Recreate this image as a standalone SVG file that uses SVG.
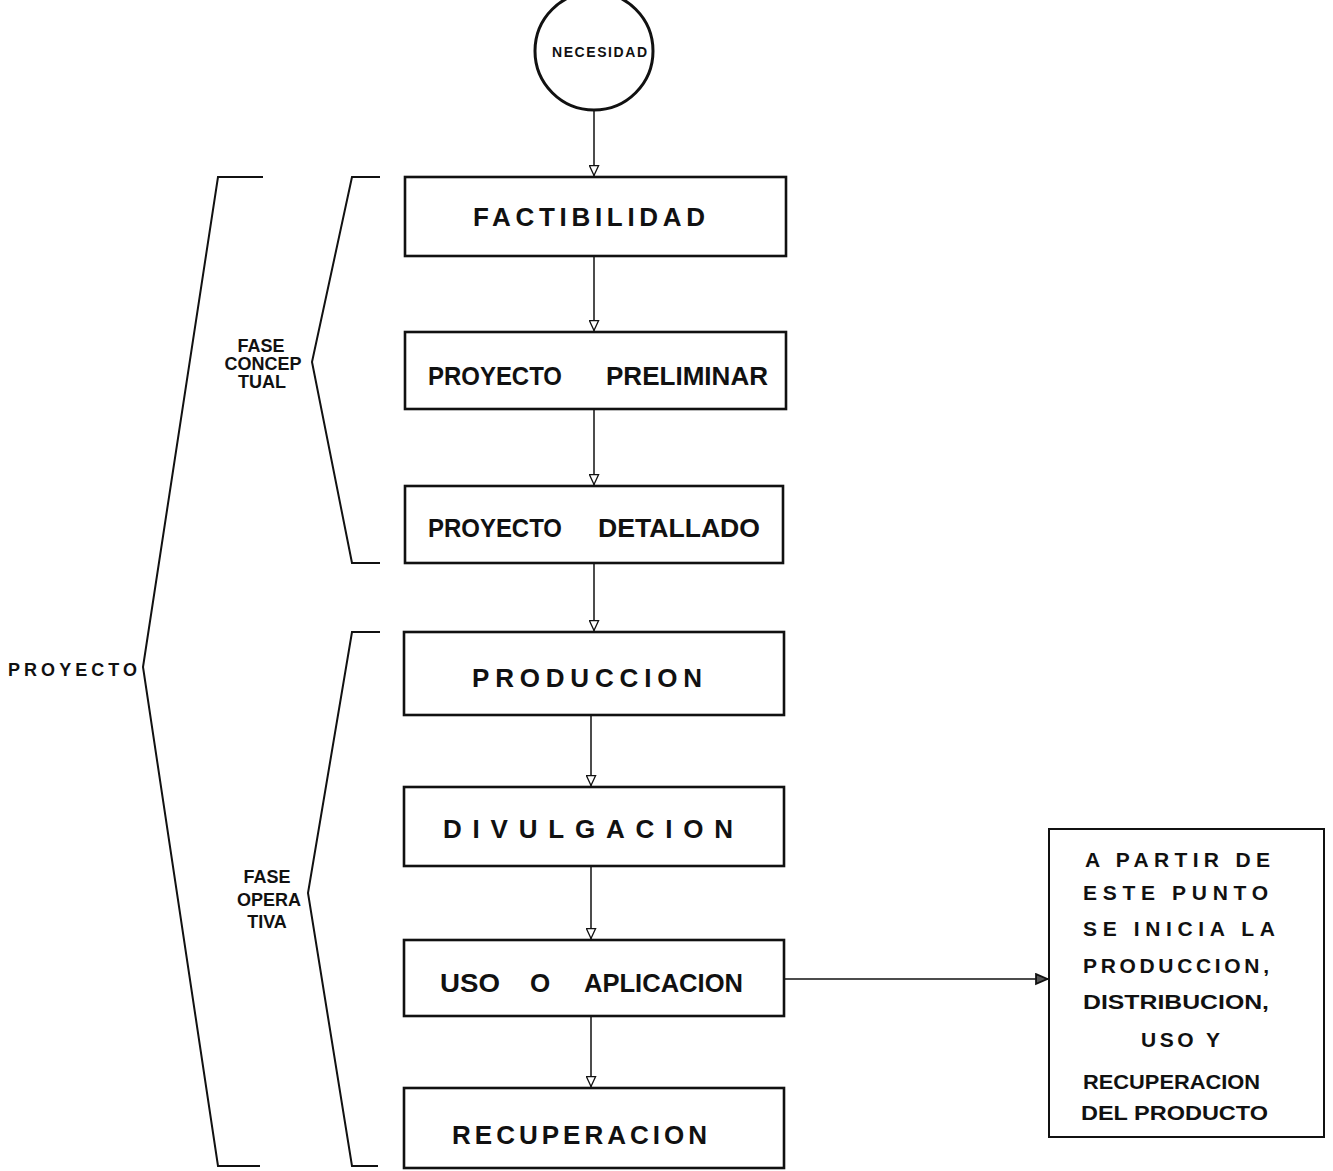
<svg xmlns="http://www.w3.org/2000/svg" width="1333" height="1171" viewBox="0 0 1333 1171">
<style>
  .box{fill:#fff;stroke:#111;stroke-width:2.6}
  .lbl{font-family:"Liberation Sans",Arial,sans-serif;font-weight:bold;font-size:26px;fill:#111}
  .side{font-family:"Liberation Sans",Arial,sans-serif;font-weight:bold;font-size:18px;fill:#111}
  .note{font-family:"Liberation Sans",Arial,sans-serif;font-weight:bold;font-size:21px;fill:#111}
  .con{fill:none;stroke:#111;stroke-width:1.5}
  .brk{fill:none;stroke:#111;stroke-width:2}
</style>
<defs>
  <marker id="open" viewBox="0 0 10 10" refX="10" refY="5" markerWidth="13" markerHeight="11" markerUnits="userSpaceOnUse" orient="auto">
    <path d="M0.5,0.8 L9.5,5 L0.5,9.2 z" fill="#fff" stroke="#111" stroke-width="1.2"/>
  </marker>
  <marker id="solid" viewBox="0 0 10 10" refX="10" refY="5" markerWidth="16" markerHeight="13" markerUnits="userSpaceOnUse" orient="auto">
    <path d="M0.8,1.2 L9.5,5 L0.8,8.8 z" fill="#555" stroke="#111" stroke-width="1.4"/>
  </marker>
</defs>
<rect width="1333" height="1171" fill="#fff"/>

<g id="brackets">
  <path class="brk" d="M263,177 L218,177 L143,667 L218,1166 L260,1166"/>
  <path class="brk" d="M380,177 L352,177 L312,362 L352,563 L380,563"/>
  <path class="brk" d="M380,632 L352,632 L308,893 L352,1166 L378,1166"/>
</g>

<g id="label-proyecto">
  <text class="side" x="8" y="676" font-size="20" textLength="129" lengthAdjust="spacing">PROYECTO</text>
</g>
<g id="label-conceptual" text-anchor="middle">
  <text class="side" x="261" y="352">FASE</text>
  <text class="side" x="263" y="370">CONCEP</text>
  <text class="side" x="262" y="388">TUAL</text>
</g>
<g id="label-operativa" text-anchor="middle">
  <text class="side" x="267" y="883">FASE</text>
  <text class="side" x="269" y="906">OPERA</text>
  <text class="side" x="267" y="928">TIVA</text>
</g>

<g id="connectors">
  <path class="con" d="M594,110 L594,176" marker-end="url(#open)"/>
  <path class="con" d="M594,256 L594,331" marker-end="url(#open)"/>
  <path class="con" d="M594,409 L594,485" marker-end="url(#open)"/>
  <path class="con" d="M594,563 L594,631" marker-end="url(#open)"/>
  <path class="con" d="M591,716 L591,786" marker-end="url(#open)"/>
  <path class="con" d="M591,866 L591,939" marker-end="url(#open)"/>
  <path class="con" d="M591,1016 L591,1087" marker-end="url(#open)"/>
  <path class="con" d="M784,979 L1048,979" stroke-width="2.4" marker-end="url(#solid)"/>
</g>

<g id="necesidad">
  <circle cx="594" cy="51" r="59" fill="#fff" stroke="#111" stroke-width="3"/>
  <text x="552" y="57" font-family="'Liberation Sans',Arial,sans-serif" font-weight="bold" font-size="14" fill="#111" textLength="95" lengthAdjust="spacing">NECESIDAD</text>
</g>

<g id="factibilidad">
  <rect class="box" x="405" y="177" width="381" height="79"/>
  <text class="lbl" x="473" y="226" textLength="232" lengthAdjust="spacing">FACTIBILIDAD</text>
</g>
<g id="proyecto-preliminar">
  <rect class="box" x="405" y="332" width="381" height="77"/>
  <text class="lbl" x="428" y="385" textLength="134" lengthAdjust="spacingAndGlyphs">PROYECTO</text>
  <text class="lbl" x="606" y="385" textLength="162" lengthAdjust="spacingAndGlyphs">PRELIMINAR</text>
</g>
<g id="proyecto-detallado">
  <rect class="box" x="405" y="486" width="378" height="77"/>
  <text class="lbl" x="428" y="537" textLength="134" lengthAdjust="spacingAndGlyphs">PROYECTO</text>
  <text class="lbl" x="598" y="537" textLength="162" lengthAdjust="spacingAndGlyphs">DETALLADO</text>
</g>
<g id="produccion">
  <rect class="box" x="404" y="632" width="380" height="83" stroke-width="3.2"/>
  <text class="lbl" x="472" y="687" textLength="230" lengthAdjust="spacing">PRODUCCION</text>
</g>
<g id="divulgacion">
  <rect class="box" x="404" y="787" width="380" height="79"/>
  <text class="lbl" x="443" y="838" textLength="290" lengthAdjust="spacing">DIVULGACION</text>
</g>
<g id="uso-aplicacion">
  <rect class="box" x="404" y="940" width="380" height="76"/>
  <text class="lbl" x="440" y="992" textLength="60" lengthAdjust="spacingAndGlyphs">USO</text>
  <text class="lbl" x="530" y="992">O</text>
  <text class="lbl" x="584" y="992" textLength="159" lengthAdjust="spacingAndGlyphs">APLICACION</text>
</g>
<g id="recuperacion">
  <rect class="box" x="404" y="1088" width="380" height="80"/>
  <text class="lbl" x="452" y="1144" textLength="255" lengthAdjust="spacing">RECUPERACION</text>
</g>

<g id="nota">
  <rect x="1049" y="829" width="275" height="308" fill="#fff" stroke="#111" stroke-width="2"/>
  <text class="note" x="1085" y="867" textLength="185" lengthAdjust="spacing">A PARTIR DE</text>
  <text class="note" x="1083" y="900" textLength="185" lengthAdjust="spacing">ESTE PUNTO</text>
  <text class="note" x="1083" y="936" textLength="192" lengthAdjust="spacing">SE INICIA LA</text>
  <text class="note" x="1083" y="973" textLength="186" lengthAdjust="spacing">PRODUCCION,</text>
  <text class="note" x="1083" y="1009" textLength="186" lengthAdjust="spacingAndGlyphs">DISTRIBUCION,</text>
  <text class="note" x="1141" y="1047" textLength="79" lengthAdjust="spacing">USO Y</text>
  <text class="note" x="1083" y="1089" textLength="177" lengthAdjust="spacingAndGlyphs">RECUPERACION</text>
  <text class="note" x="1081" y="1120" textLength="187" lengthAdjust="spacingAndGlyphs">DEL PRODUCTO</text>
</g>
</svg>
